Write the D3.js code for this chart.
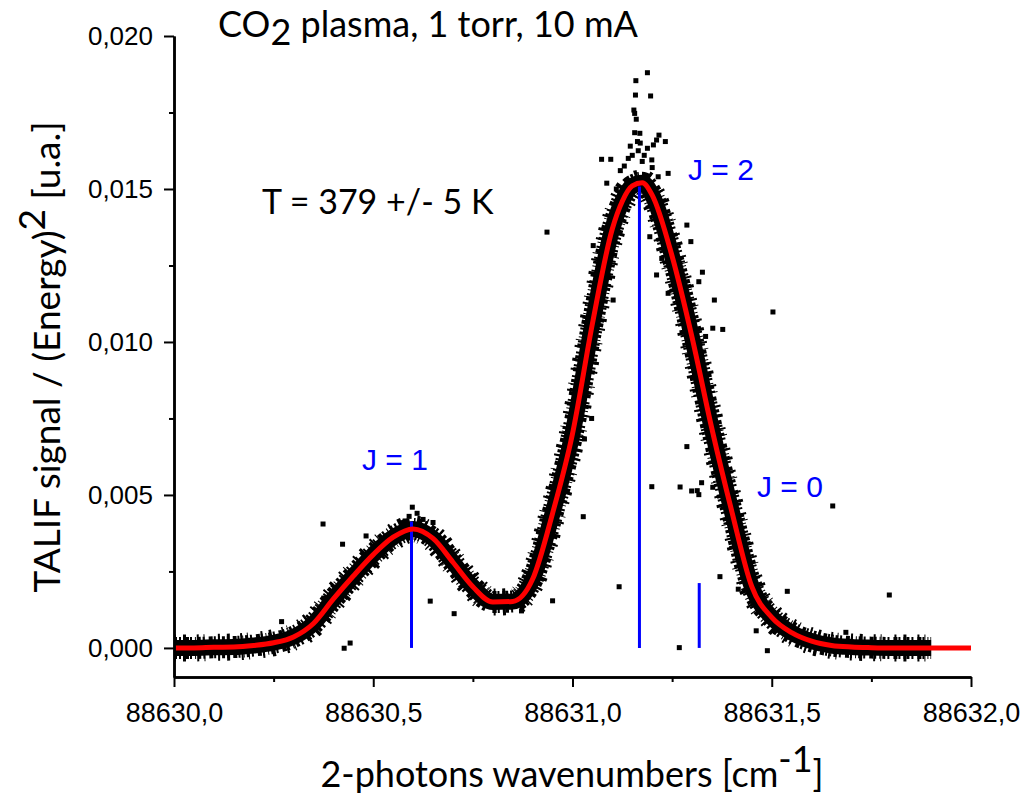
<!DOCTYPE html>
<html>
<head>
<meta charset="utf-8">
<script src="https://cdn.jsdelivr.net/npm/d3@7"></script>
<style>
    body { margin: 0; background: #fff; }
    svg { display: block; }
    .tick text { font-family: "Liberation Sans", Arial, sans-serif; font-size: 26px; fill: #000; }
    .label { font-family: Lato, "Open Sans", sans-serif; fill: #000; }
    .jlabel { font-family: "Liberation Sans", Arial, sans-serif; font-size: 30px; fill: #0000ff; }
</style>
</head>
<body>
<div id="chart"></div>
<script>
// fitted TALIF profile (wavenumber, signal)
var fitX = [88630.0, 88630.05, 88630.1, 88630.15, 88630.2, 88630.25, 88630.3, 88630.35, 88630.4,
    88630.45, 88630.5, 88630.55, 88630.6, 88630.65, 88630.7, 88630.75, 88630.8, 88630.85, 88630.9,
    88630.95, 88631.0, 88631.05, 88631.1, 88631.125, 88631.15, 88631.175, 88631.2, 88631.25,
    88631.3, 88631.35, 88631.4, 88631.45, 88631.5, 88631.55, 88631.6, 88631.65, 88631.7, 88631.75,
    88631.8, 88631.9, 88632.0];
var fitY = [0, 0, 0.00002, 0.00003, 0.00008, 0.00017, 0.00036, 0.0008, 0.0016,
    0.00235, 0.00305, 0.00362, 0.00389, 0.00358, 0.0028, 0.002, 0.0015, 0.00152, 0.00225,
    0.0044, 0.007, 0.0106, 0.0137, 0.0146, 0.0151, 0.0152, 0.0148, 0.0128,
    0.01015, 0.00715, 0.00445, 0.002, 0.001, 0.0005, 0.00022, 0.00008, 0.00003, 0.00001,
    0, 0, 0];

// measured points lying off the dense band
var strayX = [88630.374, 88630.423, 88630.482, 88630.427, 88630.442, 88630.643, 88630.703, 88630.598,
    88630.27, 88630.376, 88631.027, 88630.95, 88630.872, 88631.117, 88631.102, 88631.048, 88631.03,
    88630.936, 88631.27, 88631.287, 88631.199, 88631.268, 88631.299, 88631.313, 88631.317, 88631.324,
    88631.352, 88631.37, 88631.416, 88631.461, 88631.489, 88631.539, 88631.653, 88631.795, 88631.686,
    88631.503, 88631.188, 88631.159, 88631.158, 88631.196, 88631.154, 88631.156, 88631.16, 88631.156,
    88631.169, 88631.217, 88631.211, 88631.233, 88631.163, 88631.188, 88631.203, 88631.073, 88631.096,
    88631.199, 88631.086, 88631.052, 88631.287, 88631.297, 88631.24, 88631.211, 88631.24, 88631.356,
    88631.352, 88631.377, 88631.334, 88631.326, 88631.317, 88631.194, 88631.224,
    88631.12, 88631.14, 88631.15, 88631.165, 88631.18, 88631.2, 88631.13, 88631.175, 88631.11,
    88631.215, 88631.145, 88631.17, 88630.59, 88630.61, 88630.625, 88630.65, 88630.58];
var strayY = [0.00405, 0.00339, 0.00366, -0.00001, 0.00016, 0.00153, 0.00112, 0.0046,
    0.00086, 0.00163, 0.00429, 0.00154, 0.00121, 0.002, 0.01137, 0.0075, 0.00683,
    0.01359, 0.00526, 0.00658, 0.00527, 0.00001, 0.00513, 0.00514, 0.00501, 0.0054,
    0.00525, 0.00233, 0.00192, 0.00056, -0.00009, 0.00185, 0.00464, 0.00173, 0.00051,
    0.01098, 0.0188, 0.01854, 0.01807, 0.01804, 0.01758, 0.01747, 0.01728, 0.01684,
    0.01682, 0.01676, 0.0166, 0.01655, 0.01655, 0.01633, 0.01644, 0.01597, 0.01597,
    0.01595, 0.01519, 0.01315, 0.01382, 0.01328, 0.01551, 0.01219, 0.01159, 0.01137,
    0.01045, 0.01041, 0.01018, 0.01228, 0.01197, 0.01344, 0.01273,
    0.0156, 0.016, 0.0161, 0.01625, 0.0161, 0.0157, 0.01575, 0.0159, 0.015,
    0.0154, 0.0164, 0.0165, 0.0043, 0.0044, 0.0042, 0.0041, 0.00415];

// rotational lines
var lineNames = ['J = 1', 'J = 2', 'J = 0'];
var lineX = [88630.596, 88631.168, 88631.318];
var lineTop = [0.00413, 0.01508, 0.00212];

var xTicks = [88630, 88630.5, 88631, 88631.5, 88632];
var xMinor = [88630.25, 88630.75, 88631.25, 88631.75];
var yTicks = [0, 0.005, 0.010, 0.015, 0.020];
var yMinor = [0.0025, 0.0075, 0.0125, 0.0175];
var dataEnd = 88631.9;

var width = 1022, height = 796;
var svg = d3.select('#chart').append('svg')
    .attr('width', width)
    .attr('height', height);

var x = d3.scaleLinear().domain([88630, 88632]).range([174, 971]);
var y = d3.scaleLinear().domain([-0.00095, 0.020]).range([677, 36]);

var comma = function(f) {
    return function(d) { return d3.format(f)(d).replace('.', ','); };
};

var fit = fitX.map(function(d, i) { return { x: d, y: fitY[i] }; });
var band = fit.filter(function(d) { return d.x <= dataEnd; });

var line = d3.line()
    .x(function(d) { return x(d.x); })
    .y(function(d) { return y(d.y); })
    .curve(d3.curveMonotoneX);

// dense cloud of measured points, drawn as a speckled band along the profile
var cloud = [
    { w: 27, dash: '2 7 3 11 2 5 1 13' },
    { w: 22, dash: '3 2 2 4 4 1 2 3 1 2' },
    { w: 16, dash: null }
];
cloud.forEach(function(c) {
    svg.append('path').datum(band)
        .attr('d', line)
        .attr('fill', 'none')
        .attr('stroke', '#000')
        .attr('stroke-width', c.w)
        .attr('stroke-dasharray', c.dash);
});

svg.selectAll('rect.stray')
    .data(strayX.map(function(d, i) { return { x: d, y: strayY[i] }; }))
    .enter().append('rect')
    .attr('class', 'stray')
    .attr('x', function(d) { return x(d.x) - 2.5; })
    .attr('y', function(d) { return y(d.y) - 2.5; })
    .attr('width', 5)
    .attr('height', 5)
    .attr('fill', '#000');

// line positions
svg.selectAll('line.jline')
    .data(lineX)
    .enter().append('line')
    .attr('class', 'jline')
    .attr('x1', function(d) { return x(d); })
    .attr('x2', function(d) { return x(d); })
    .attr('y1', y(0))
    .attr('y2', function(d, i) { return y(lineTop[i]); })
    .attr('stroke', '#0000ff')
    .attr('stroke-width', 3);

// fit
svg.append('path').datum(fit)
    .attr('d', line)
    .attr('fill', 'none')
    .attr('stroke', '#ff0000')
    .attr('stroke-width', 5);

// axes
var gx = svg.append('g').attr('transform', 'translate(0,' + y.range()[0] + ')');
gx.call(d3.axisBottom(x).tickValues(xTicks).tickFormat(comma('.1f'))
    .tickSize(10).tickSizeOuter(0).tickPadding(16));
gx.append('g').call(d3.axisBottom(x).tickValues(xMinor).tickFormat('')
    .tickSize(5).tickSizeOuter(0));
gx.selectAll('.tick text').style('font-size', '27px');

var gy = svg.append('g').attr('transform', 'translate(' + x.range()[0] + ',0)');
gy.call(d3.axisLeft(y).tickValues(yTicks).tickFormat(comma('.3f'))
    .tickSize(10).tickSizeOuter(0).tickPadding(11));
gy.append('g').call(d3.axisLeft(y).tickValues(yMinor).tickFormat('')
    .tickSize(5).tickSizeOuter(0));

svg.selectAll('.domain').attr('stroke', '#000').attr('stroke-width', 2.5);
svg.selectAll('.tick line').attr('stroke', '#000').attr('stroke-width', 2);

// texts
var title = svg.append('text').attr('class', 'label')
    .attr('x', 218).attr('y', 37).style('font-size', '36px');
title.append('tspan').text('CO');
title.append('tspan').attr('dy', 8).text('2');
title.append('tspan').attr('dy', -8).text(' plasma, 1 torr, 10 mA');

svg.append('text').attr('class', 'label')
    .attr('x', 262).attr('y', 214).style('font-size', '34px')
    .text('T = 379 +/- 5 K');

var yTitle = svg.append('text').attr('class', 'label')
    .attr('transform', 'translate(60,357) rotate(-90)')
    .attr('text-anchor', 'middle').style('font-size', '37px');
yTitle.append('tspan').text('TALIF signal / (Energy)');
yTitle.append('tspan').attr('dy', -15).text('2');
yTitle.append('tspan').attr('dy', 15).text(' [u.a.]');

var xTitle = svg.append('text').attr('class', 'label')
    .attr('x', 572).attr('y', 787)
    .attr('text-anchor', 'middle').style('font-size', '36px');
xTitle.append('tspan').text('2-photons wavenumbers [cm');
xTitle.append('tspan').attr('dy', -15).text('-1');
xTitle.append('tspan').attr('dy', 15).text(']');

var jPos = [[362, 470], [688, 180], [757, 497]];
svg.selectAll('text.jlabel')
    .data(lineNames)
    .enter().append('text')
    .attr('class', 'jlabel')
    .attr('x', function(d, i) { return jPos[i][0]; })
    .attr('y', function(d, i) { return jPos[i][1]; })
    .text(function(d) { return d; });
</script>
</body>
</html>
